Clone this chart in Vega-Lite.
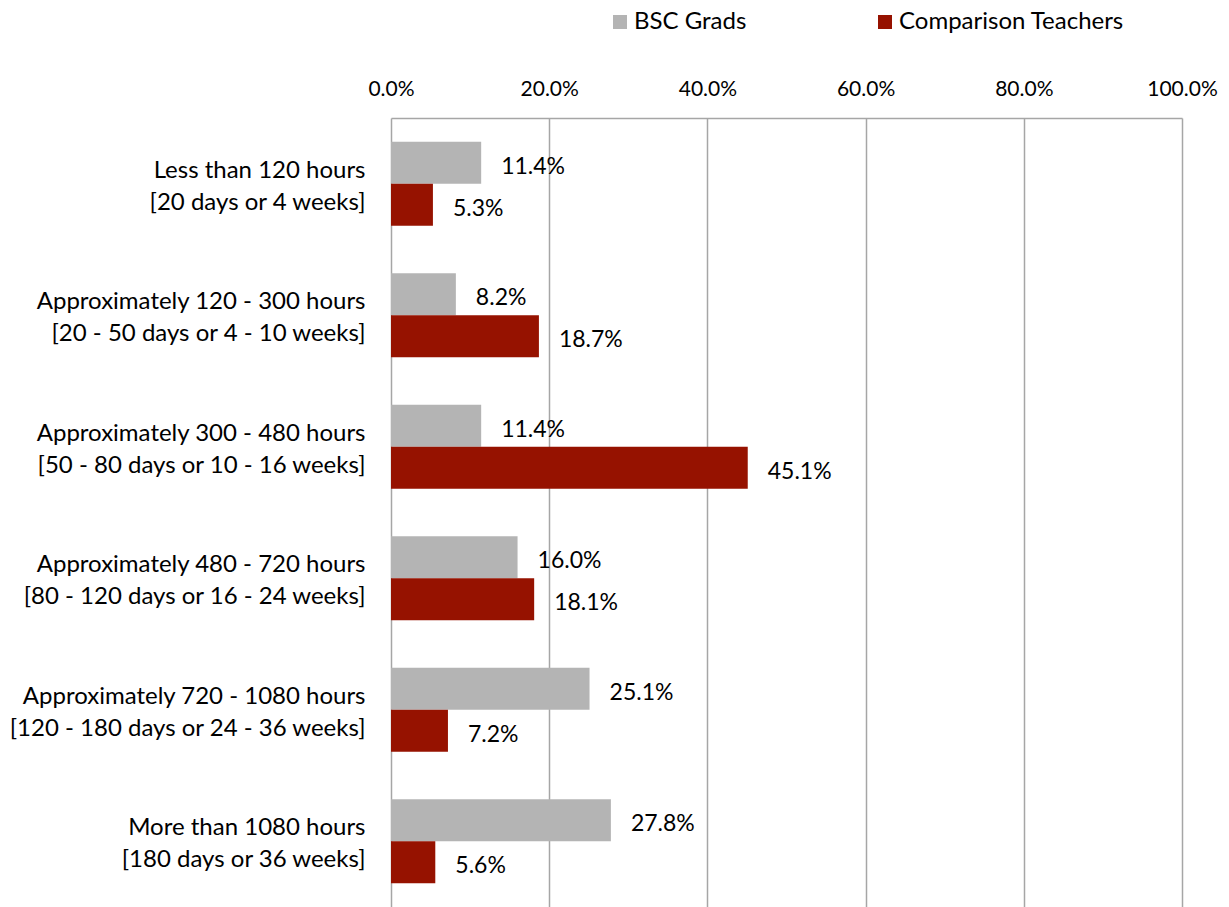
{
  "$schema": "https://vega.github.io/schema/vega-lite/v6.json",
  "width": 791,
  "height": 789,
  "padding": 0,
  "background": "white",
  "config": {
    "view": {"stroke": null},
    "font": "Lato",
    "text": {"font": "Lato"}
  },
  "data": {
    "values": [
      {"cat": "Less than 120 hours|[20 days or 4 weeks]", "series": "BSC Grads", "value": 0.114},
      {"cat": "Less than 120 hours|[20 days or 4 weeks]", "series": "Comparison Teachers", "value": 0.053},
      {"cat": "Approximately 120 - 300 hours|[20 - 50 days or 4 - 10 weeks]", "series": "BSC Grads", "value": 0.082},
      {"cat": "Approximately 120 - 300 hours|[20 - 50 days or 4 - 10 weeks]", "series": "Comparison Teachers", "value": 0.187},
      {"cat": "Approximately 300 - 480 hours|[50 - 80 days or 10 - 16 weeks]", "series": "BSC Grads", "value": 0.114},
      {"cat": "Approximately 300 - 480 hours|[50 - 80 days or 10 - 16 weeks]", "series": "Comparison Teachers", "value": 0.451},
      {"cat": "Approximately 480 - 720 hours|[80 - 120 days or 16 - 24 weeks]", "series": "BSC Grads", "value": 0.160},
      {"cat": "Approximately 480 - 720 hours|[80 - 120 days or 16 - 24 weeks]", "series": "Comparison Teachers", "value": 0.181},
      {"cat": "Approximately 720 - 1080 hours|[120 - 180 days or 24 - 36 weeks]", "series": "BSC Grads", "value": 0.251},
      {"cat": "Approximately 720 - 1080 hours|[120 - 180 days or 24 - 36 weeks]", "series": "Comparison Teachers", "value": 0.072},
      {"cat": "More than 1080 hours|[180 days or 36 weeks]", "series": "BSC Grads", "value": 0.278},
      {"cat": "More than 1080 hours|[180 days or 36 weeks]", "series": "Comparison Teachers", "value": 0.056}
    ]
  },
  "encoding": {
    "y": {
      "field": "cat",
      "type": "nominal",
      "sort": null,
      "title": null,
      "scale": {"paddingInner": 0.36, "paddingOuter": 0.18},
      "axis": {
        "labelExpr": "split(datum.label, '|')",
        "ticks": false,
        "domain": false,
        "grid": false,
        "labelPadding": 26,
        "labelFontSize": 24,
        "labelLineHeight": 32,
        "labelOffset": -13,
        "labelColor": "black",
        "labelLimit": 400,
        "minExtent": 391,
        "maxExtent": 391
      }
    },
    "yOffset": {"field": "series", "type": "nominal", "sort": null, "scale": {"paddingInner": 0, "paddingOuter": 0}},
    "x": {
      "field": "value",
      "type": "quantitative",
      "title": null,
      "scale": {"domain": [0, 1], "nice": false},
      "axis": {
        "orient": "top",
        "format": ".1%",
        "values": [0, 0.2, 0.4, 0.6, 0.8, 1.0],
        "labelFlush": false,
        "ticks": false,
        "domain": true,
        "domainColor": "#a6a6a6",
        "domainWidth": 1.5,
        "grid": true,
        "gridColor": "#a6a6a6",
        "gridWidth": 1.5,
        "labelFontSize": 21,
        "labelColor": "black",
        "labelPadding": 19,
        "minExtent": 118,
        "maxExtent": 118
      }
    }
  },
  "layer": [
    {
      "mark": {"type": "bar"},
      "encoding": {
        "color": {
          "field": "series",
          "type": "nominal",
          "sort": null,
          "scale": {"domain": ["BSC Grads", "Comparison Teachers"], "range": ["#b4b4b4", "#961200"]},
          "legend": {
            "title": null,
            "orient": "none",
            "direction": "horizontal",
            "legendX": 217,
            "legendY": -108,
            "padding": 0,
            "symbolType": "square",
            "symbolSize": 196,
            "symbolStrokeWidth": 0,
            "symbolOpacity": 1,
            "labelFontSize": 24,
            "labelColor": "black",
            "labelOffset": 2,
            "columnPadding": 126,
            "labelLimit": 400
          }
        }
      }
    },
    {
      "mark": {"type": "text", "align": "left", "baseline": "middle", "dx": 20, "dy": 4, "fontSize": 23, "color": "black"},
      "encoding": {
        "text": {"field": "value", "type": "quantitative", "format": ".1%"}
      }
    }
  ]
}
